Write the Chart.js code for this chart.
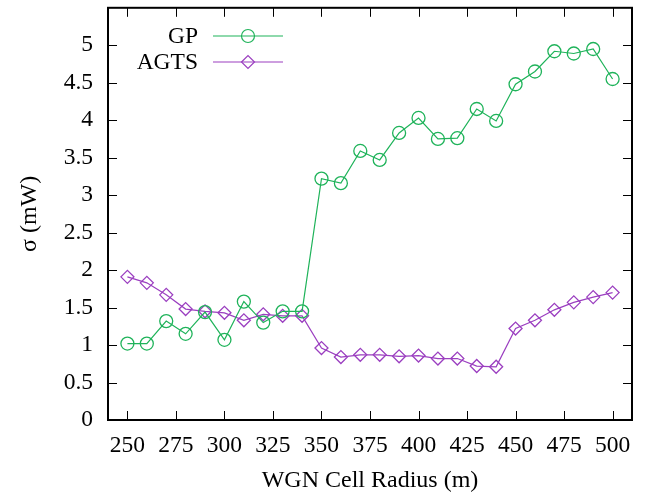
<!DOCTYPE html>
<html>
<head>
<meta charset="utf-8">
<script src="https://cdn.jsdelivr.net/npm/chart.js@4/dist/chart.umd.min.js"></script>
<style>
  html, body { margin: 0; padding: 0; background: #fff; }
  #wrap { width: 647px; height: 495px; }
</style>
</head>
<body>
<div id="wrap"><canvas id="grafico"></canvas></div>
<script>
// dados
var raios = [250, 260, 270, 280, 290, 300, 310, 320, 330, 340, 350, 360, 370,
             380, 390, 400, 410, 420, 430, 440, 450, 460, 470, 480, 490, 500];
var valoresGP = [1.02, 1.02, 1.32, 1.15, 1.44, 1.07, 1.58, 1.30, 1.45, 1.45, 3.22, 3.16, 3.59,
                 3.47, 3.83, 4.03, 3.75, 3.76, 4.15, 3.99, 4.48, 4.65, 4.92, 4.89, 4.95, 4.55];
var valoresAGTS = [1.91, 1.83, 1.67, 1.48, 1.45, 1.43, 1.33, 1.41, 1.39, 1.39, 0.96, 0.84, 0.87,
                   0.87, 0.85, 0.86, 0.82, 0.82, 0.72, 0.71, 1.22, 1.33, 1.47, 1.57, 1.64, 1.70];
var ticksX = [250, 275, 300, 325, 350, 375, 400, 425, 450, 475, 500];
var ticksY = [0, 0.5, 1, 1.5, 2, 2.5, 3, 3.5, 4, 4.5, 5];

var fonte = "'Liberation Serif', 'Times New Roman', serif";
var tamFonte = 23.5;

function pontos(xs, ys) {
    return xs.map(function (x, i) { return { x: x, y: ys[i] }; });
}

// moldura, ticks para dentro e legenda estilo gnuplot
var moldura = {
    id: 'moldura',
    afterDatasetsDraw: function (chart) {
        var ctx = chart.ctx, a = chart.chartArea;
        var sx = chart.scales.x, sy = chart.scales.y;
        var tl = 9;
        ctx.save();
        ctx.strokeStyle = '#000';
        ctx.lineWidth = 1;
        ctx.beginPath();
        ticksX.forEach(function (v) {
            var px = Math.round(sx.getPixelForValue(v)) + 0.5;
            ctx.moveTo(px, a.bottom); ctx.lineTo(px, a.bottom - tl);
            ctx.moveTo(px, a.top); ctx.lineTo(px, a.top + tl);
        });
        ticksY.forEach(function (v) {
            var py = Math.round(sy.getPixelForValue(v)) + 0.5;
            ctx.moveTo(a.left, py); ctx.lineTo(a.left + tl, py);
            ctx.moveTo(a.right, py); ctx.lineTo(a.right - tl, py);
        });
        ctx.stroke();
        ctx.lineWidth = 2;
        ctx.strokeRect(a.left, a.top, a.right - a.left, a.bottom - a.top);

        // legenda
        ctx.font = tamFonte + 'px ' + fonte;
        ctx.textAlign = 'right';
        ctx.textBaseline = 'middle';
        chart.data.datasets.forEach(function (ds, i) {
            var y = 36 + i * 26;
            ctx.fillStyle = '#000';
            ctx.fillText(ds.label, 198, y + 1);
            ctx.strokeStyle = ds.borderColor;
            ctx.fillStyle = 'rgba(0,0,0,0)';
            ctx.lineWidth = 1.2;
            ctx.beginPath();
            ctx.moveTo(213, y); ctx.lineTo(283, y);
            ctx.stroke();
            Chart.helpers.drawPoint(ctx, {
                pointStyle: ds.pointStyle, radius: ds.pointRadius,
                borderWidth: ds.pointBorderWidth
            }, 248, y);
        });
        ctx.restore();
    }
};

var ctx = document.getElementById('grafico').getContext('2d');
var grafico = new Chart(ctx, {
    type: 'line',
    data: {
        datasets: [{
            label: 'GP',
            data: pontos(raios, valoresGP),
            borderColor: '#1fb35a',
            backgroundColor: 'rgba(0,0,0,0)',
            borderWidth: 1.2,
            pointStyle: 'circle',
            pointRadius: 6.5,
            pointBorderWidth: 1.3,
            pointBorderColor: '#1fb35a',
            pointBackgroundColor: 'rgba(0,0,0,0)',
            tension: 0,
            fill: false
        }, {
            label: 'AGTS',
            data: pontos(raios, valoresAGTS),
            borderColor: '#9b3fc0',
            backgroundColor: 'rgba(0,0,0,0)',
            borderWidth: 1.2,
            pointStyle: 'rectRot',
            pointRadius: 6.5,
            pointBorderWidth: 1.3,
            pointBorderColor: '#9b3fc0',
            pointBackgroundColor: 'rgba(0,0,0,0)',
            tension: 0,
            fill: false
        }]
    },
    options: {
        responsive: true,
        maintainAspectRatio: false,
        animation: false,
        layout: { padding: { left: 0, right: 15, top: 4, bottom: 0 } },
        plugins: {
            legend: { display: false },
            tooltip: { enabled: false }
        },
        scales: {
            x: {
                type: 'linear',
                min: 240,
                max: 510,
                grid: { display: false, drawTicks: false },
                border: { display: false },
                afterBuildTicks: function (s) { s.ticks = ticksX.map(function (v) { return { value: v }; }); },
                afterFit: function (s) { s.height = 75; s.paddingLeft = 0; s.paddingRight = 0; },
                ticks: { color: '#000', padding: 12, maxRotation: 0, font: { family: fonte, size: tamFonte } },
                title: {
                    display: true, text: 'WGN Cell Radius (m)', color: '#000',
                    padding: { top: 4, bottom: 0 }, font: { family: fonte, size: 24 }
                }
            },
            y: {
                min: 0,
                max: 5.5,
                grid: { display: false, drawTicks: false },
                border: { display: false },
                afterBuildTicks: function (s) { s.ticks = ticksY.map(function (v) { return { value: v }; }); },
                afterFit: function (s) { s.width = 108; s.paddingTop = 0; s.paddingBottom = 0; },
                ticks: {
                    color: '#000', padding: 15, font: { family: fonte, size: tamFonte },
                    callback: function (v) { return String(v); }
                },
                title: {
                    display: true, text: 'σ (mW)', color: '#000',
                    padding: { top: 15, bottom: 0 }, font: { family: fonte, size: 24 }
                }
            }
        }
    },
    plugins: [moldura]
});
</script>
</body>
</html>
